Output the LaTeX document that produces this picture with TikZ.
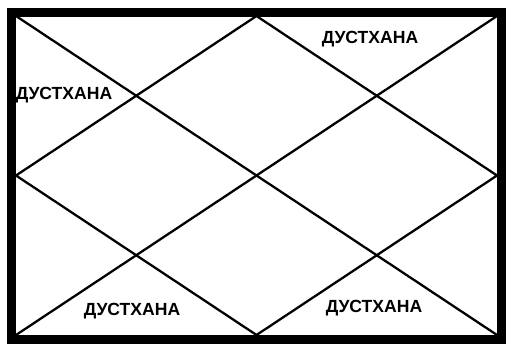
\documentclass[tikz,border=0pt]{standalone}
\usepackage{fontspec}
\setmainfont{Liberation Sans}
\usetikzlibrary{calc}

\begin{document}
\begin{tikzpicture}[
    x=0.02cm, y=-0.02cm,
    frame/.style={draw, line width=9*0.02cm, line join=miter},
    grid/.style={draw, line width=1.3pt},
    house/.style={font=\bfseries\fontsize{10}{12}\selectfont, inner sep=0pt}
]
% page area
\useasboundingbox[fill=white] (0,0) rectangle (510,345);

% chart corners and midpoints
\coordinate (tl) at (16,16);
\coordinate (tr) at (497,16);
\coordinate (bl) at (16,335);
\coordinate (br) at (497,335);
\coordinate (top)   at ($(tl)!0.5!(tr)$);
\coordinate (bot)   at ($(bl)!0.5!(br)$);
\coordinate (left)  at ($(tl)!0.5!(bl)$);
\coordinate (right) at ($(tr)!0.5!(br)$);

% diagonals and diamond
\draw[grid] (tl) -- (br);
\draw[grid] (tr) -- (bl);
\draw[grid] (top) -- (right) -- (bot) -- (left) -- cycle;

% outer frame
\draw[frame] (11.5,12) rectangle (501.5,339.5);

% labels
\node[house] (h12) at (370,39)  {ДУСТХАНА};
\node[house] (h3)  at (64,95)   {ДУСТХАНА};
\node[house] (h6)  at (132,311) {ДУСТХАНА};
\node[house] (h8)  at (374,308) {ДУСТХАНА};
\end{tikzpicture}
\end{document}
